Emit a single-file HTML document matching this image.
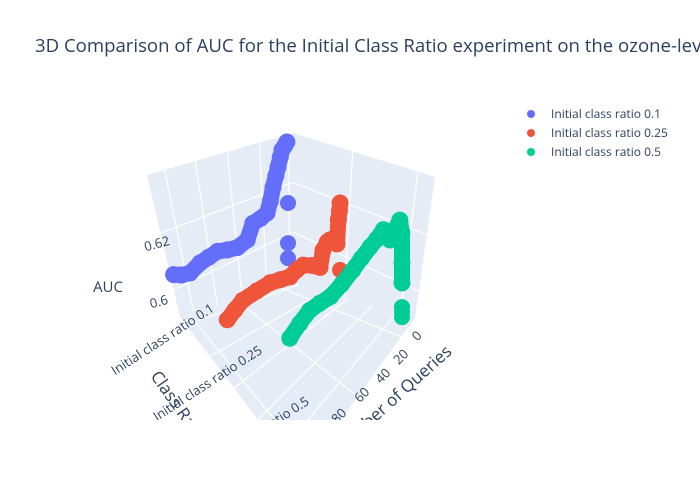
<!DOCTYPE html>
<html><head><meta charset="utf-8"><style>
body{margin:0;background:#fff;}
svg{display:block;font-family:"Open Sans","Liberation Sans",sans-serif;}
</style></head><body>
<svg id="chart" width="700" height="500" viewBox="0 0 700 500">
<rect width="700" height="500" fill="#fff"/>
<text x="35" y="52" font-size="18.6" fill="#2a3f5f">3D Comparison of AUC for the Initial Class Ratio experiment on the ozone-level dataset</text>
<defs><clipPath id="sc"><rect x="0" y="70" width="520" height="350"/></clipPath></defs>
<g id="scene" clip-path="url(#sc)">
 <g id="walls"></g>
 <g id="marks"></g>
 <g id="labels" font-size="13" fill="#2a3f5f">
  <text x="0" y="0" transform="translate(158,248) rotate(-15)" text-anchor="middle">0.62</text>
  <text x="0" y="0" transform="translate(160,306) rotate(-15)" text-anchor="middle">0.6</text>
  <text x="108" y="292" font-size="15" text-anchor="middle">AUC</text>
  <text transform="translate(165,343) rotate(-33)" text-anchor="middle">Initial class ratio 0.1</text>
  <text transform="translate(210,387) rotate(-33)" text-anchor="middle">Initial class ratio 0.25</text>
  <text transform="translate(260,436) rotate(-33)" text-anchor="middle">Initial class ratio 0.5</text>
  <text transform="translate(150,376) rotate(55)" font-size="17">Class Ratio</text>
  <text transform="translate(420,339) rotate(-45)" text-anchor="middle">0</text>
  <text transform="translate(404,360) rotate(-45)" text-anchor="middle">20</text>
  <text transform="translate(386,379) rotate(-45)" text-anchor="middle">40</text>
  <text transform="translate(365,398) rotate(-45)" text-anchor="middle">60</text>
  <text transform="translate(342,419) rotate(-45)" text-anchor="middle">80</text>
  <text transform="translate(396,404) rotate(-42)" font-size="17" text-anchor="middle">Number of Queries</text>
 </g>
</g>
<g id="legend" font-size="12" fill="#2a3f5f">
 <g><circle cx="531" cy="114" r="4" fill="#636efa"/><text x="551" y="118">Initial class ratio 0.1</text></g>
 <g><circle cx="531" cy="133" r="4" fill="#EF553B"/><text x="551" y="137">Initial class ratio 0.25</text></g>
 <g><circle cx="531" cy="152" r="4" fill="#00cc96"/><text x="551" y="156">Initial class ratio 0.5</text></g>
</g>
</svg>
<script>
const seriesNames = ["Initial class ratio 0.1","Initial class ratio 0.25","Initial class ratio 0.5"];
const q01 = [104,97,89,80,72,64,55,46,37,32,25,19,16,13.6,11,9,7,5.5,3,1];
const auc01 = [.6084,.606,.6041,.6046,.604,.6034,.601,.5989,.5986,.6026,.602,.6019,.605,.609,.612,.6143,.617,.6189,.6195,.6202];
const q01Iso = [0,0,0];
const auc01Iso = [.5992,.5856,.5805];
const q025 = [107,100,93,80,68,59,50,44,38,30,22.7,20,16,13.6,10,7.3,6,5,4.5];
const auc025 = [.6049,.606,.607,.606,.6049,.603,.6011,.6015,.6012,.5985,.5955,.6005,.602,.6019,.600,.5985,.6063,.609,.6115];
const q025Iso = [4.5];
const auc025Iso = [.5888];
const q05 = [102,93,84,75,65,55,45,37,29,23,17,11,6,2,0,0,0];
const auc05 = [.6079,.610,.6115,.611,.6101,.611,.6125,.614,.6153,.616,.6173,.6119,.614,.6157,.6107,.6005,.5938];
const q05Iso = [0,0,0];
const auc05Iso = [.5856,.584,.5822];

const NS="http://www.w3.org/2000/svg";
function sx(q,ci){return 288-1.1*q+57*ci;}
function sy(q,ci,a){return 200.6+0.95*q+32*ci-2950*(a-0.6);}
function mk(tag,attrs,parent){const e=document.createElementNS(NS,tag);for(const k in attrs)e.setAttribute(k,attrs[k]);parent.appendChild(e);return e;}
function lerp(p,r,t){return [p[0]+(r[0]-p[0])*t,p[1]+(r[1]-p[1])*t];}
function bil(A,B,C,D,u,v){return lerp(lerp(A,B,u),lerp(D,C,u),v);}

const walls=document.getElementById('walls');
const TL=[147,175],BT=[293,133],TR=[435,177],BB=[293,283],LB=[180,317],RB=[415,318],FR=[300,475];
function poly(pts,name){const p=mk('polygon',{points:pts.map(p=>p.join(',')).join(' '),fill:'#e5ecf6'},walls);

}
poly([TL,BT,BB,LB],'left-wall');
poly([BT,TR,RB,BB],'right-wall');
poly([BB,RB,FR,LB],'floor');
function gl(a,b){const l=mk('line',{x1:a[0],y1:a[1],x2:b[0],y2:b[1],stroke:'#fff','stroke-width':1.2},walls);

}
[0.12,0.33,0.55,0.77,0.97].forEach(u=>gl(lerp(TL,BT,u),lerp(LB,BB,u)));
[[0.41,0.33],[0.81,0.66]].forEach(v=>{gl(lerp(TL,LB,v[0]),lerp(BT,BB,v[1]));gl(lerp(BT,BB,v[1]),lerp(TR,RB,v[0]));});
[0.42,0.88].forEach(u=>gl(lerp(BT,TR,u),lerp(BB,RB,u)));
[0.05,0.25,0.45,0.65,0.85].forEach(t=>gl(bil(BB,RB,FR,LB,t,0),bil(BB,RB,FR,LB,t,1)));
[0.12,0.5,0.92].forEach(t=>gl(bil(BB,RB,FR,LB,0,t),bil(BB,RB,FR,LB,1,t)));

const marks=document.getElementById('marks');
const colors=["#636efa","#EF553B","#00cc96"];
const data=[[q01,auc01,q01Iso,auc01Iso],[q025,auc025,q025Iso,auc025Iso],[q05,auc05,q05Iso,auc05Iso]];
data.forEach((d,ci)=>{
 const g=mk('g',{},marks);
 
 
 const pts=d[0].map((q,i)=>[sx(q,ci),sy(q,ci,d[1][i])]);
 const pl=mk('polyline',{points:pts.map(p=>p.join(',')).join(' '),fill:'none',stroke:colors[ci],'stroke-width':16,'stroke-linecap':'round','stroke-linejoin':'round'},g);
 
 
 pts.forEach(p=>{const c=mk('circle',{cx:p[0],cy:p[1],r:8.5,fill:colors[ci]},g);
  
  });
 d[2].forEach((q,i)=>{const c=mk('circle',{cx:sx(q,ci),cy:sy(q,ci,d[3][i]),r:8,fill:colors[ci]},g);
  
  });
});
</script>
</body></html>
